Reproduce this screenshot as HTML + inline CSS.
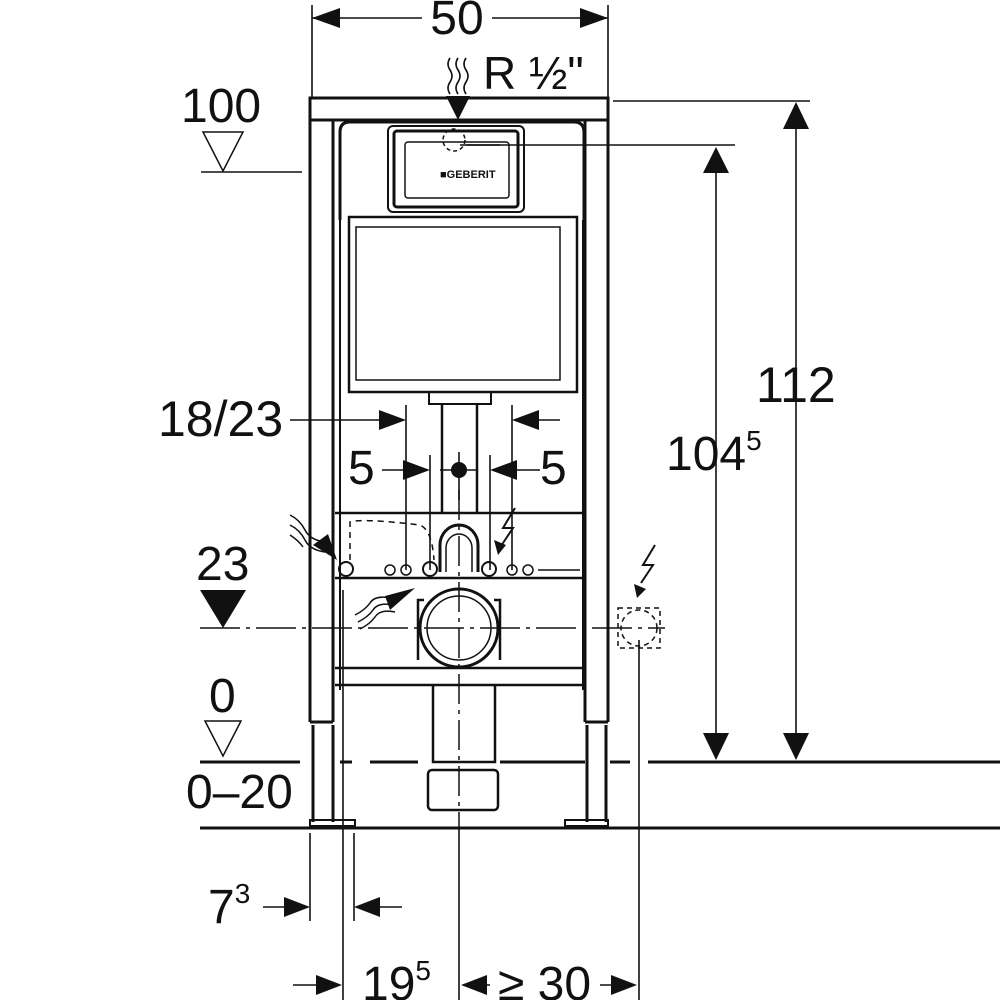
<!DOCTYPE html>
<html><head><meta charset="utf-8"><style>
html,body{margin:0;padding:0;background:#fff}
svg{display:block}
text{font-family:"Liberation Sans",sans-serif;fill:#111}
</style></head><body>
<svg width="1000" height="1000" viewBox="0 0 1000 1000" xmlns="http://www.w3.org/2000/svg">
<g stroke="#111" fill="none" stroke-width="1.6">
<line x1="312" y1="5" x2="312" y2="98"/><line x1="608" y1="5" x2="608" y2="98"/>
<line x1="312" y1="18" x2="422" y2="18"/><line x1="492" y1="18" x2="608" y2="18"/>
<line x1="613" y1="101" x2="810" y2="101"/>
<line x1="460" y1="145" x2="735" y2="145"/>
<line x1="796" y1="125" x2="796" y2="740"/>
<line x1="716" y1="170" x2="716" y2="740"/>
<line x1="201" y1="172" x2="302" y2="172"/>
<polygon points="203,132 243,132 223,171" stroke-width="1.5"/>
<polygon points="205,721 241,721 223,756" stroke-width="1.5"/>
<line x1="290" y1="420" x2="390" y2="420"/>
<line x1="528" y1="420" x2="560" y2="420"/>
<line x1="406" y1="405" x2="406" y2="570"/>
<line x1="512" y1="405" x2="512" y2="570"/>
<line x1="382" y1="470" x2="410" y2="470"/>
<line x1="508" y1="470" x2="540" y2="470"/>
<line x1="430" y1="455" x2="430" y2="570"/>
<line x1="490" y1="455" x2="490" y2="570"/>
<line x1="440" y1="470" x2="478" y2="470"/>
<line x1="459" y1="452" x2="459" y2="500"/>
<line x1="310" y1="833" x2="310" y2="921"/>
<line x1="354" y1="833" x2="354" y2="921"/>
<line x1="343" y1="590" x2="343" y2="1000"/>
<line x1="459" y1="828" x2="459" y2="1000"/>
<line x1="639" y1="640" x2="639" y2="1000"/>
<line x1="263" y1="907" x2="292" y2="907"/>
<line x1="370" y1="907" x2="402" y2="907"/>
<line x1="293" y1="985" x2="330" y2="985"/>
<line x1="470" y1="985" x2="490" y2="985"/>
<line x1="600" y1="985" x2="625" y2="985"/>
</g>
<g fill="#111">
<polygon points="312,18 340,8 340,28"/><polygon points="608,18 580,8 580,28"/>
<polygon points="796,102 783,129 809,129"/><polygon points="796,760 783,733 809,733"/>
<polygon points="716,147 703,173 729,173"/><polygon points="716,760 703,733 729,733"/>
<polygon points="200,590 246,590 223,628"/>
<polygon points="406,420 379,410 379,430"/><polygon points="512,420 539,410 539,430"/>
<polygon points="430,470 403,460 403,480"/><polygon points="490,470 517,460 517,480"/>
<polygon points="310,907 284,897 284,917"/><polygon points="354,907 380,897 380,917"/>
<polygon points="342,985 316,975 316,995"/><polygon points="461,985 487,975 487,995"/><polygon points="637,985 611,975 611,995"/>
<circle cx="459" cy="470" r="8"/>
<polygon points="458,120 446,96 470,96"/>
</g>
<g stroke="#111" fill="none" stroke-width="1.6">
<path d="M450,58 q-4,6 0,12 q4,6 0,12 q-4,6 0,12"/><path d="M458,58 q-4,6 0,12 q4,6 0,12 q-4,6 0,12"/><path d="M466,58 q-4,6 0,12 q4,6 0,12 q-4,6 0,12"/>
</g>
<g stroke="#111" fill="none" stroke-width="3">
<rect x="310" y="98" width="298" height="22"/>
<line x1="310" y1="120" x2="310" y2="722"/><line x1="333" y1="120" x2="333" y2="722"/>
<line x1="585" y1="120" x2="585" y2="722"/><line x1="608" y1="120" x2="608" y2="722"/>
<line x1="310" y1="722" x2="333" y2="722"/><line x1="585" y1="722" x2="608" y2="722"/>
<line x1="313" y1="725" x2="313" y2="822"/><line x1="333" y1="725" x2="333" y2="822"/>
<line x1="587" y1="725" x2="587" y2="822"/><line x1="606" y1="725" x2="606" y2="822"/>
<rect x="310" y="820" width="45" height="6" stroke-width="2"/>
<rect x="565" y="820" width="43" height="6" stroke-width="2"/>
<line x1="200" y1="828" x2="1000" y2="828"/>
<path d="M340,762 H352 M370,762 H418 M500,762 H585 M610,762 H630 M648,762 H1000 M200,762 H300" stroke-width="3"/>
<path d="M340,220 V132 q0,-10 10,-10 H574 q10,0 10,10 V220"/>
<rect x="388" y="126" width="136" height="86" rx="5" stroke-width="2"/>
<rect x="394" y="131" width="124" height="76" rx="3" stroke-width="3"/>
<rect x="349" y="217" width="228" height="175" stroke-width="2.5"/>
<rect x="356" y="227" width="204" height="153" stroke-width="1.5"/>
<line x1="340" y1="220" x2="340" y2="690" stroke-width="2"/>
<line x1="583" y1="220" x2="583" y2="690" stroke-width="2"/>
<line x1="335" y1="513" x2="585" y2="513" stroke-width="2.5"/>
<line x1="335" y1="578" x2="585" y2="578" stroke-width="2.5"/>
<line x1="335" y1="668" x2="585" y2="668" stroke-width="2.5"/>
<line x1="335" y1="685" x2="585" y2="685" stroke-width="2.5"/>
<path d="M429,392 V404 H491 V392" stroke-width="2"/>
<line x1="442" y1="404" x2="442" y2="513" stroke-width="2.5"/>
<line x1="477" y1="404" x2="477" y2="513" stroke-width="2.5"/>
<path d="M433,685 V762 H495 V685" stroke-width="2.5"/>
<rect x="428" y="770" width="70" height="40" rx="4" stroke-width="2.5"/>
<path d="M440,572 V545 a19,20 0 0 1 38,0 V572" stroke-width="3"/>
<path d="M446,572 V548 a13,14 0 0 1 26,0 V572" stroke-width="1.5"/>
<circle cx="459" cy="628" r="39" stroke-width="3"/>
<circle cx="459" cy="628" r="32" stroke-width="1.5"/>
<path d="M424,600 H418 V660 M494,600 H500 V660" stroke-width="2.5"/>
</g>
<g stroke="#111" fill="none" stroke-width="1.5">
<line x1="200" y1="628" x2="665" y2="628" stroke-dasharray="40,6,4,6"/>
<line x1="459" y1="490" x2="459" y2="830" stroke-dasharray="30,6,4,6"/>
<rect x="618" y="608" width="42" height="40" stroke-dasharray="5,4"/>
<circle cx="639" cy="628" r="18" stroke-dasharray="5,4"/>
<path d="M350,560 V522 Q360,518 420,525 Q432,530 434,560" stroke-dasharray="6,5"/>
<circle cx="454" cy="140" r="11" stroke-dasharray="4,3"/>
<line x1="466" y1="145" x2="500" y2="145"/>
<rect x="405" y="142" width="104" height="56" rx="3"/>
<circle cx="346" cy="569" r="7" stroke-width="2"/><circle cx="430" cy="569" r="7" stroke-width="2"/><circle cx="489" cy="569" r="7" stroke-width="2"/>
<circle cx="390" cy="570" r="5"/><circle cx="406" cy="570" r="5"/><circle cx="512" cy="570" r="5"/><circle cx="528" cy="570" r="5"/>
<line x1="538" y1="570" x2="580" y2="570"/>
<path d="M290,515 q10,5 15,15 q5,10 20,12 M290,525 q10,5 15,15 q5,10 20,12 M290,535 q8,5 13,12"/>
<path d="M355,615 q10,-5 15,-12 q5,-8 20,-5 M358,622 q10,-5 15,-12 q5,-8 20,-5 M360,629 q10,-5 15,-12 q5,-8 20,-5"/>
<path d="M515,508 l-12,20 h10 l-12,18" stroke-width="2"/>
<path d="M655,545 l-12,20 h10 l-12,18" stroke-width="2"/>
</g>
<g fill="#111">
<polygon points="337,560 313,545 328,534"/>
<polygon points="415,588 390,610 385,596"/>
<polygon points="498,555 494,540 506,545"/>
<polygon points="637,598 634,584 646,589"/>
</g>
<text x="440" y="178" font-size="11" font-weight="bold">■GEBERIT</text>
<text x="457" y="34" font-size="48" text-anchor="middle">50</text>
<text x="483" y="89" font-size="46">R ½"</text>
<text x="181" y="122" font-size="48">100</text>
<text x="756" y="402" font-size="50">112</text>
<text x="666" y="470" font-size="48">104<tspan font-size="28" dy="-20">5</tspan></text>
<text x="158" y="436" font-size="50">18/23</text>
<text x="348" y="484" font-size="48">5</text>
<text x="540" y="484" font-size="48">5</text>
<text x="196" y="580" font-size="48">23</text>
<text x="209" y="712" font-size="48">0</text>
<text x="186" y="808" font-size="48">0–20</text>
<text x="208" y="923" font-size="48">7<tspan font-size="28" dy="-20">3</tspan></text>
<text x="362" y="1000" font-size="48">19<tspan font-size="28" dy="-20">5</tspan></text>
<text x="498" y="1000" font-size="48">≥ 30</text>
</svg>
</body></html>
